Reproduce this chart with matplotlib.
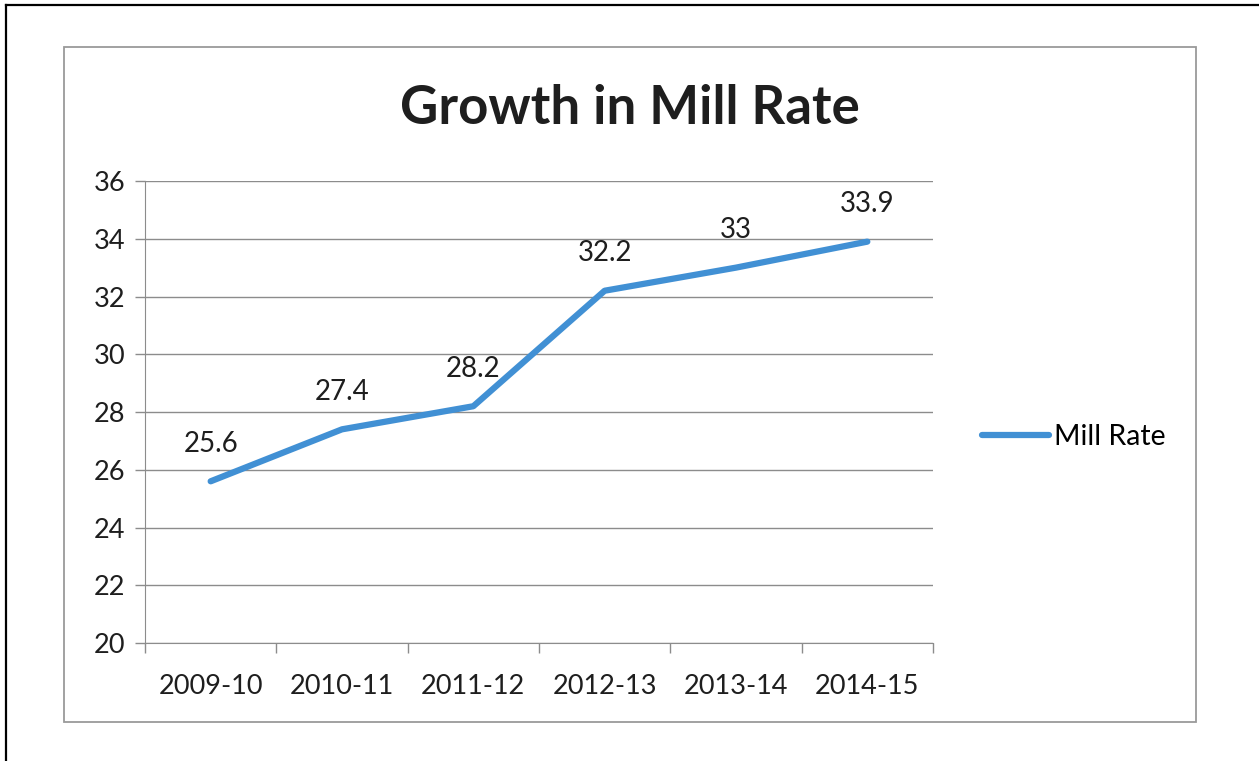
import numpy as np
import matplotlib.pyplot as plt
from matplotlib.patches import Rectangle
from matplotlib.lines import Line2D

# data
years = ['2009-10', '2010-11', '2011-12', '2012-13', '2013-14', '2014-15']
mill_rate = [25.6, 27.4, 28.2, 32.2, 33.0, 33.9]
rate_labels = ['25.6', '27.4', '28.2', '32.2', '33', '33.9']
y_ticks = [20, 22, 24, 26, 28, 30, 32, 34, 36]

W, H = 1259, 761
font = 'Lato'
blue = '#4190d4'
grid_col = '#8c8c8c'
text_col = '#1e1e1e'

fig = plt.figure(figsize=(W / 100, H / 100), dpi=100)
fig.patch.set_facecolor('white')

def fx(px):
    return px / W

def fy(py):
    return 1 - py / H

# scan border (black, top and left) and chart frame (gray)
fig.add_artist(Line2D([fx(6), 1], [fy(5), fy(5)], color='black', lw=1.6))
fig.add_artist(Line2D([fx(6), fx(6)], [fy(5), 0], color='black', lw=1.6))
fig.add_artist(Rectangle((fx(64), fy(722)), fx(1196) - fx(64), fy(47) - fy(722),
                         fill=False, edgecolor='#9a9a9a', lw=1.3))

ax = fig.add_axes([fx(145), fy(643), fx(933) - fx(145), fy(181) - fy(643)])
x = np.arange(len(years))
ax.plot(x, mill_rate, color=blue, lw=4.5, solid_capstyle='round', label='Mill Rate')

for xi, yi, lab in zip(x, mill_rate, rate_labels):
    ax.annotate(lab, (xi, yi), xytext=(0, 27), textcoords='offset points',
                ha='center', va='center', fontsize=20, family=font, color=text_col)

ax.set_xlim(-0.5, len(years) - 0.5)
ax.set_ylim(20, 36)
ax.set_yticks(y_ticks)
ax.set_xticks(x)
ax.set_xticklabels(years)
ax.set_xticks(np.arange(-0.5, len(years)), minor=True)
ax.tick_params(axis='x', which='major', length=0, pad=22, labelsize=19.5)
ax.tick_params(axis='x', which='minor', length=7, color=grid_col, width=1)
ax.tick_params(axis='y', length=7, color=grid_col, width=1, pad=7, labelsize=19.5)
for lab in ax.get_xticklabels() + ax.get_yticklabels():
    lab.set_family(font)
    lab.set_color(text_col)

ax.grid(axis='y', color=grid_col, lw=1)
ax.set_axisbelow(True)
for s in ['top', 'right']:
    ax.spines[s].set_visible(False)
ax.spines['left'].set_color(grid_col)
ax.spines['bottom'].set_color(grid_col)

fig.text(0.5, fy(108), 'Growth in Mill Rate', ha='center', va='center',
         fontsize=38, fontweight='bold', family=font, color=text_col)

fig.legend(loc='center left', bbox_to_anchor=(fx(956), fy(437)), frameon=False,
           prop={'family': font, 'size': 20.5}, handlelength=2.35, handletextpad=0.2)

fig.savefig('out.png', dpi=100)
